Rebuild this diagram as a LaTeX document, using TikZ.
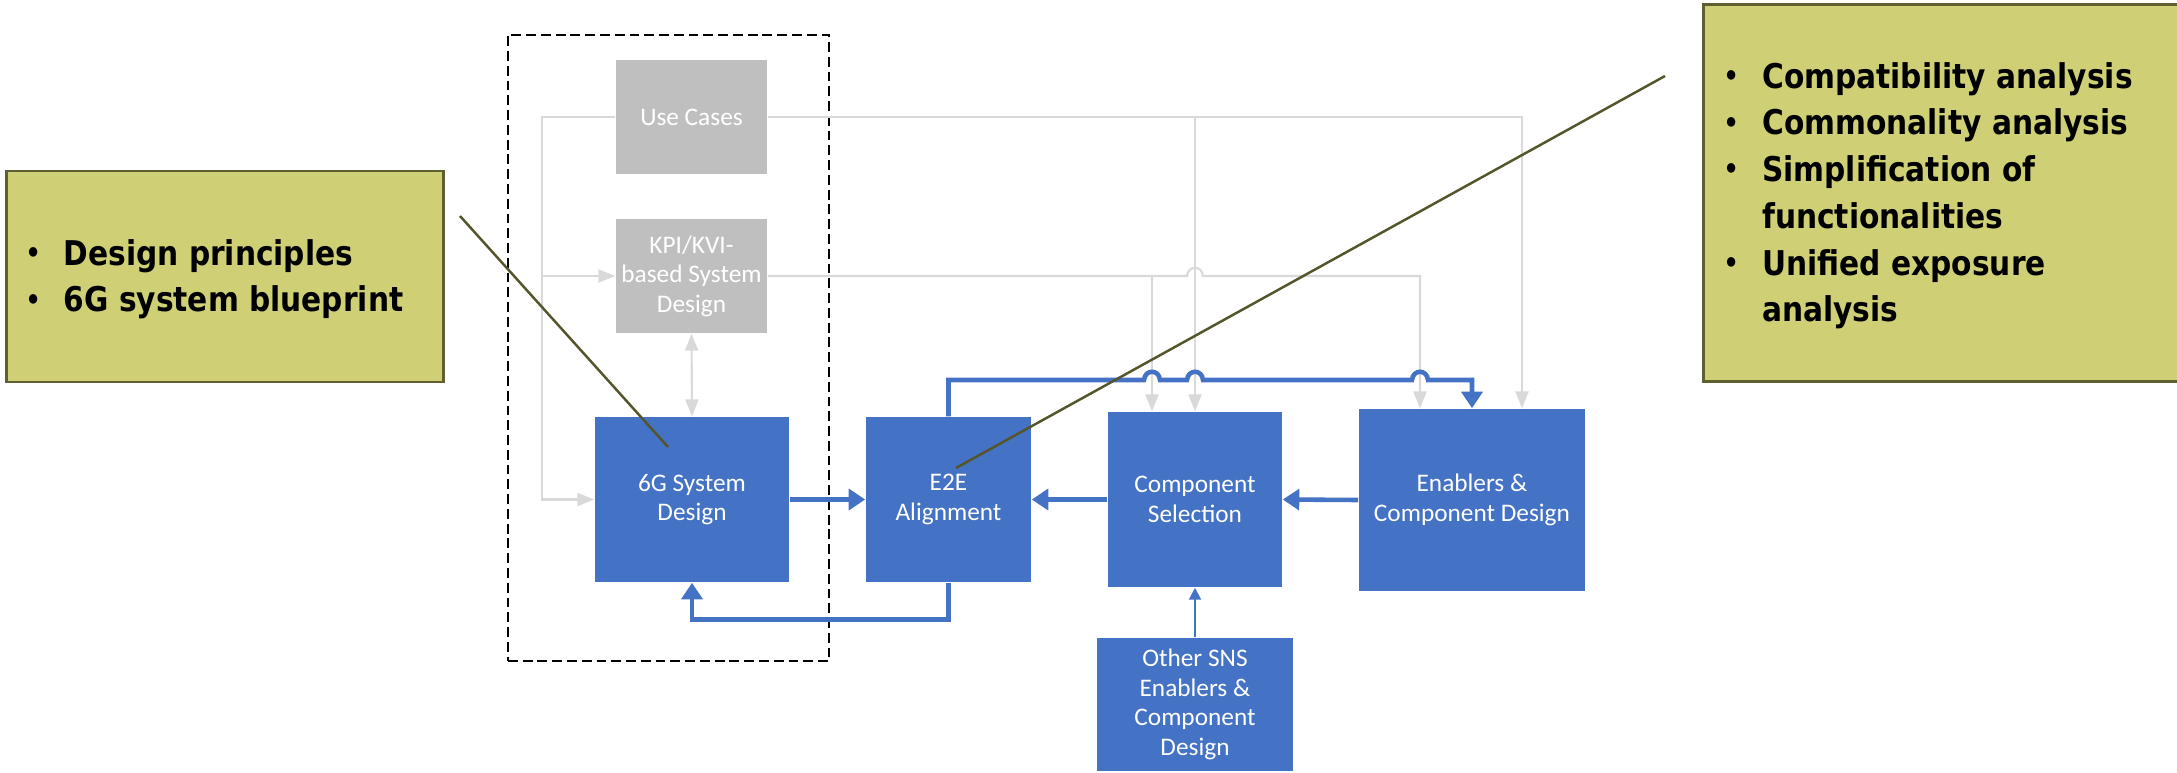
\documentclass[tikz,border=0pt]{standalone}
\usepackage{fontspec}
\newfontfamily\boxfont{Carlito}
\newfontfamily\notefont{DejaVu Sans}[FakeStretch=0.87]
\usetikzlibrary{arrows.meta,calc}
\definecolor{boxblue}{HTML}{4472C4}
\definecolor{boxgray}{HTML}{BFBFBF}
\definecolor{linegray}{HTML}{D9D9D9}
\definecolor{notefill}{HTML}{CFD076}
\definecolor{noteedge}{HTML}{5F5F32}
\definecolor{noteline}{HTML}{55552B}
\newcommand\notebul{\makebox[0.18cm][c]{\raisebox{0.08em}{\scalebox{0.8}{•}}}}

\begin{document}
\begin{tikzpicture}[x=0.01cm,y=-0.01cm,
      blk/.style={
        fill=boxblue,
        text=white,
        inner sep=0pt,
        align=center,
        font=\boxfont\fontsize{7.2}{8.4}\selectfont
      },
      gblk/.style={blk,fill=boxgray},
      note/.style={
        draw=noteedge,
        line width=0.8pt,
        fill=notefill,
        inner sep=0pt
      },
      notetxt/.style={
        inner sep=0pt,
        anchor=base west,
        font=\notefont\bfseries\fontsize{9.7}{13.3}\selectfont
      },
      grpbox/.style={draw,line width=0.6pt,dash pattern=on 2.8pt off 1.4pt,inner sep=0pt},
      flow/.style={boxblue,line width=1.3pt,-{Triangle[width=5.9pt,length=4.7pt]}},
      thinflow/.style={boxblue,line width=0.6pt,-{Triangle[width=3.4pt,length=3.4pt]}},
      gline/.style={linegray,line width=0.6pt,-{Triangle[width=3.7pt,length=4.8pt]}},
      callline/.style={noteline,line width=0.7pt},
      hopover/.style={to path={.. controls +(1,-11) and +(-1,-11) .. (\tikztotarget)}}
      ]
      \useasboundingbox (0,0) rectangle (2177,772);

      % callout boxes
      \node[note,minimum width=4.36cm,minimum height=2.11cm] (lnote) at (225,276.5) {};
      \node[note,minimum width=4.86cm,minimum height=3.76cm] (rnote) at (1947,193) {};
      \node[notetxt] (ltxt) at (23.5,265) {\begin{tabular}[t]{@{}p{0.395cm}@{}l@{}}
        \notebul & Design principles\\
        \notebul & 6G system blueprint
      \end{tabular}};
      \node[notetxt] (rtxt) at (1721.5,88) {\begin{tabular}[t]{@{}p{0.40cm}@{}l@{}}
        \notebul & Compatibility analysis\\
        \notebul & Commonality analysis\\
        \notebul & Simplification of\\
          & functionalities\\
        \notebul & Unified exposure\\
          & analysis
      \end{tabular}};

      % blocks
      \node[grpbox,minimum width=3.21cm,minimum height=6.26cm] (grp) at (668.5,348) {};
      \node[gblk,minimum width=1.51cm,minimum height=1.14cm] (uc) at (691.5,117) {Use Cases};
      \node[gblk,minimum width=1.51cm,minimum height=1.14cm] (kpi) at (691.5,276)
        {KPI/KVI-\\based System\\Design};
      \node[blk,minimum width=1.94cm,minimum height=1.65cm] (sys) at (692,499.5) {6G System\\Design};
      \node[blk,minimum width=1.65cm,minimum height=1.65cm] (e2e) at (948.5,499.5) {E2E\\Alignment};
      \node[blk,minimum width=1.74cm,minimum height=1.75cm] (comp) at (1195,499.5) {Component\\Selection};
      \node[blk,minimum width=2.26cm,minimum height=1.82cm] (enab) at (1472,500)
        {Enablers \&\\Component Design};
      \node[blk,minimum width=1.96cm,minimum height=1.33cm] (other) at (1195,704.5)
        {Other SNS\\Enablers \&\\Component\\Design};

      % gray inputs
      \draw[gline] (uc.west) -- (542,117) |- (sys.west);
      \draw[gline] (542,276) -- (kpi.west);
      \draw[gline,{Triangle[width=3.7pt,length=4.8pt]}-{Triangle[width=3.7pt,length=4.8pt]}] (kpi.south) -- (sys.north);
      \draw[gline] (uc.east) -| (enab.north -| 1522,0);
      \draw[gline] (1195,117) -- (comp.north);
      \draw[gline] (kpi.east) -- (1187,276) to[hopover] (1203,276) -| (enab.north -| 1420,0);
      \draw[gline] (1152,276) -- (comp.north -| 1152,0);

      % blue flow
      \draw[flow] (sys.east) -- (e2e.west);
      \draw[flow] (comp.west) -- (e2e.east);
      \draw[flow] (enab.west) -- (comp.east);
      \draw[flow] (e2e.south) -- ++(0,37) -| (sys.south);
      \draw[flow] (e2e.north) |- (1144,380) to[hopover] (1160,380) -- (1187,380) to[hopover] (1203,380)
        -- (1412,380) to[hopover] (1428,380) -| (enab.north);
      \draw[thinflow] (other.north) -- (comp.south);

      % callout pointers
      \coordinate (la) at (460,216);
      \coordinate (lb) at (668,447);
      \coordinate (ra) at (1665,76);
      \coordinate (rb) at (956,468);
      \draw[callline] (la) -- (lb);
      \draw[callline] (ra) -- (rb);
    \end{tikzpicture}
\end{document}
